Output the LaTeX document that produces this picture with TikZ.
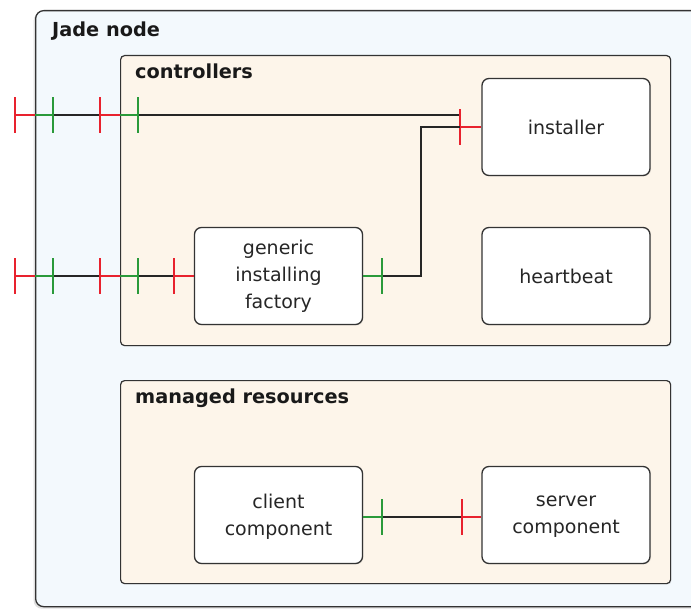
\documentclass[tikz,border=0pt]{standalone}
\usepackage{fontspec}
\setmainfont{DejaVu Sans}
\usetikzlibrary{shadows}
\definecolor{portred}{HTML}{E8222E}
\definecolor{portgreen}{HTML}{2A9A3A}
\definecolor{jadebg}{HTML}{F3F9FD}
\definecolor{groupbg}{HTML}{FDF5EA}
\newcommand\porttick[3]{\draw[#1] (#2,#3-18) -- (#2,#3+18);}
\begin{document}
\begin{tikzpicture}[x=1pt,y=-1pt,
  outerbox/.style={draw=black!80, line width=1.3pt, fill=jadebg, rounded corners=8pt, inner sep=0pt,
    drop shadow={opacity=0.25, shadow xshift=-2pt, shadow yshift=-2pt}},
  groupbox/.style={draw=black!80, line width=1.2pt, fill=groupbg, rounded corners=4pt, inner sep=0pt,
    drop shadow={opacity=0.12, shadow xshift=1pt, shadow yshift=-1pt}},
  box/.style={draw=black!80, line width=1.3pt, fill=white, rounded corners=7pt, minimum width=168pt,
    minimum height=97pt, align=center, font=\fontsize{19}{27}\selectfont, inner sep=0pt, text=black!85,
    drop shadow={opacity=0.12, shadow xshift=1pt, shadow yshift=-1pt}},
  lowtext/.style={text depth=0pt},
  grouptitle/.style={anchor=base west, font=\fontsize{19.3}{24}\selectfont\bfseries, inner sep=0pt, text=black!90},
  wire/.style={draw=black!85, line width=1.3pt},
  redw/.style={draw=portred, line width=2.4pt},
  greenw/.style={draw=portgreen, line width=2.4pt},
]
\useasboundingbox (0,0) rectangle (691,610);
\fill[white] (0,0) rectangle (691,610);
\clip (0,0) rectangle (691,610);

% containers
\node[outerbox, minimum width=668pt, minimum height=596pt, anchor=north west] (jade) at (35,10) {};
\node[grouptitle] (jadetitle) at (52,37) {Jade node};
\node[groupbox, minimum width=550pt, minimum height=290pt, anchor=north west] (ctrl) at (120,55) {};
\node[grouptitle] (ctrltitle) at (135,79) {controllers};
\node[groupbox, minimum width=550pt, minimum height=203pt, anchor=north west] (mres) at (120,380) {};
\node[grouptitle] (mrestitle) at (135,403) {managed resources};

% components
\node[box] (installer) at (566,127) {installer};
\node[box] (heartbeat) at (566,276) {heartbeat};
\node[box] (factory) at (278.5,276) {generic\\installing\\factory};
\node[box, lowtext] (client) at (278.5,515) {client\\component};
\node[box, lowtext] (server) at (566,515) {server\\component};

% top external binding (y=115)
\draw[wire] (53,115) -- (100,115);
\draw[wire] (138,115) -- (460,115);
\draw[redw] (15,115) -- (35,115);
\draw[greenw] (35,115) -- (53,115);
\draw[redw] (100,115) -- (120,115);
\draw[greenw] (120,115) -- (138,115);
\porttick{redw}{15}{115}
\porttick{greenw}{53}{115}
\porttick{redw}{100}{115}
\porttick{greenw}{138}{115}

% installer port
\draw[redw] (460,127) -- (installer.west);
\porttick{redw}{460}{127}

% factory to installer
\coordinate (fout) at (382,276);
\coordinate (iin) at (460,127);
\draw[wire] (fout) -| (421,127) -- (iin);
\draw[greenw] (factory.east) -- (fout);
\porttick{greenw}{382}{276}

% second external binding (y=276)
\draw[wire] (53,276) -- (100,276);
\draw[wire] (138,276) -- (174,276);
\draw[redw] (15,276) -- (35,276);
\draw[greenw] (35,276) -- (53,276);
\draw[redw] (100,276) -- (120,276);
\draw[greenw] (120,276) -- (138,276);
\draw[redw] (174,276) -- (factory.west);
\porttick{redw}{15}{276}
\porttick{greenw}{53}{276}
\porttick{redw}{100}{276}
\porttick{greenw}{138}{276}
\porttick{redw}{174}{276}

% client to server
\coordinate (cout) at (382,517);
\coordinate (sin) at (462,517);
\draw[wire] (cout) -- (sin);
\draw[greenw] (client.east |- cout) -- (cout);
\draw[redw] (sin) -- (server.west |- sin);
\porttick{greenw}{382}{517}
\porttick{redw}{462}{517}
\end{tikzpicture}
\end{document}
